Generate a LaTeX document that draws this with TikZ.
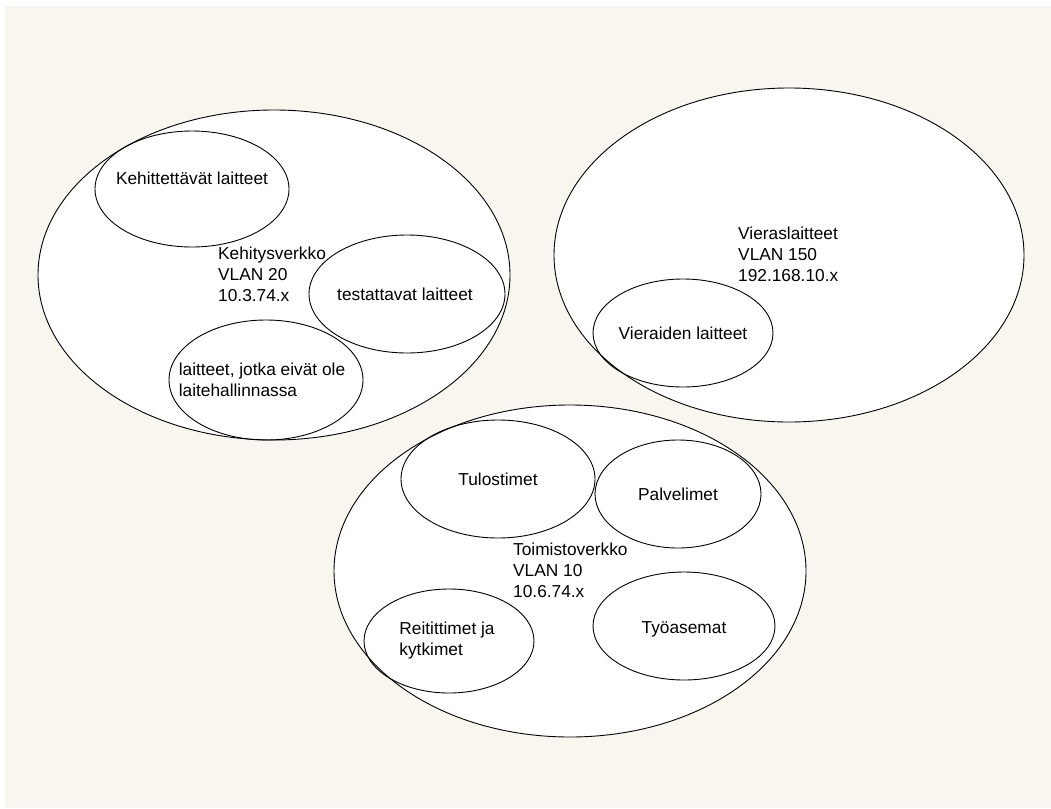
\documentclass[tikz,border=0pt]{standalone}
\usepackage{fontspec}
\setmainfont{Liberation Sans}
\usetikzlibrary{shapes.geometric}
\definecolor{paper}{RGB}{249,246,240}
\begin{document}
\begin{tikzpicture}[x=1pt,y=-1pt,
  net/.style={ellipse,draw=black,fill=white,line width=0.9pt,inner sep=0pt},
  grp/.style={ellipse,draw=black,line width=0.9pt,inner sep=0pt},
  txt/.style={inner sep=0pt,align=left,font=\fontsize{17.3}{21}\selectfont},
]
% canvas
\fill[white] (0,0) rectangle (1051,808);
\fill[paper] (5,6) rectangle (1051,808);
\useasboundingbox (0,0) rectangle (1051,808);

% development network
\node[net,minimum width=472pt,minimum height=330pt] (kehnet) at (274,275) {};
\node[txt,anchor=north west] (kehlbl) at (218,246.5) {Kehitysverkko\\VLAN 20\\10.3.74.x};
\node[grp,minimum width=194pt,minimum height=116pt] (keh) at (192,189) {};
\node[txt] (kehtxt) at ([yshift=11pt]keh.center) {Kehittettävät laitteet};
\node[grp,minimum width=196pt,minimum height=118pt] (test) at (407,294) {};
\node[txt] (testtxt) at ([xshift=-2pt]test.center) {testattavat laitteet};
\node[grp,minimum width=194pt,minimum height=120pt] (ulk) at (266,380) {};
\node[txt] (ulktxt) at ([xshift=-4pt]ulk.center) {laitteet, jotka eivät ole\\laitehallinnassa};

% guest network
\node[net,minimum width=470pt,minimum height=334pt] (viernet) at (789,255) {};
\node[txt,anchor=north west] (vierlbl) at (738,227) {Vieraslaitteet\\VLAN 150\\192.168.10.x};
\node[grp,minimum width=180pt,minimum height=108pt] (vier) at (683,333) {};
\node[txt] (viertxt) at (vier.center) {Vieraiden laitteet};

% office network
\node[net,minimum width=472pt,minimum height=332pt] (toimnet) at (570,571) {};
\node[txt,anchor=north west] (toimlbl) at (513,543) {Toimistoverkko\\VLAN 10\\10.6.74.x};
\node[grp,minimum width=194pt,minimum height=118pt] (tul) at (498,479) {};
\node[txt] (tultxt) at (tul.center) {Tulostimet};
\node[grp,minimum width=166pt,minimum height=108pt] (palv) at (678,494) {};
\node[txt] (palvtxt) at (palv.center) {Palvelimet};
\node[grp,minimum width=170pt,minimum height=104pt] (reit) at (449,641) {};
\node[txt] (reittxt) at ([xshift=-2pt]reit.center) {Reitittimet ja\\kytkimet};
\node[grp,minimum width=182pt,minimum height=108pt] (tyo) at (684,626) {};
\node[txt] (tyotxt) at ([yshift=-3pt]tyo.center) {Työasemat};
\end{tikzpicture}
\end{document}
